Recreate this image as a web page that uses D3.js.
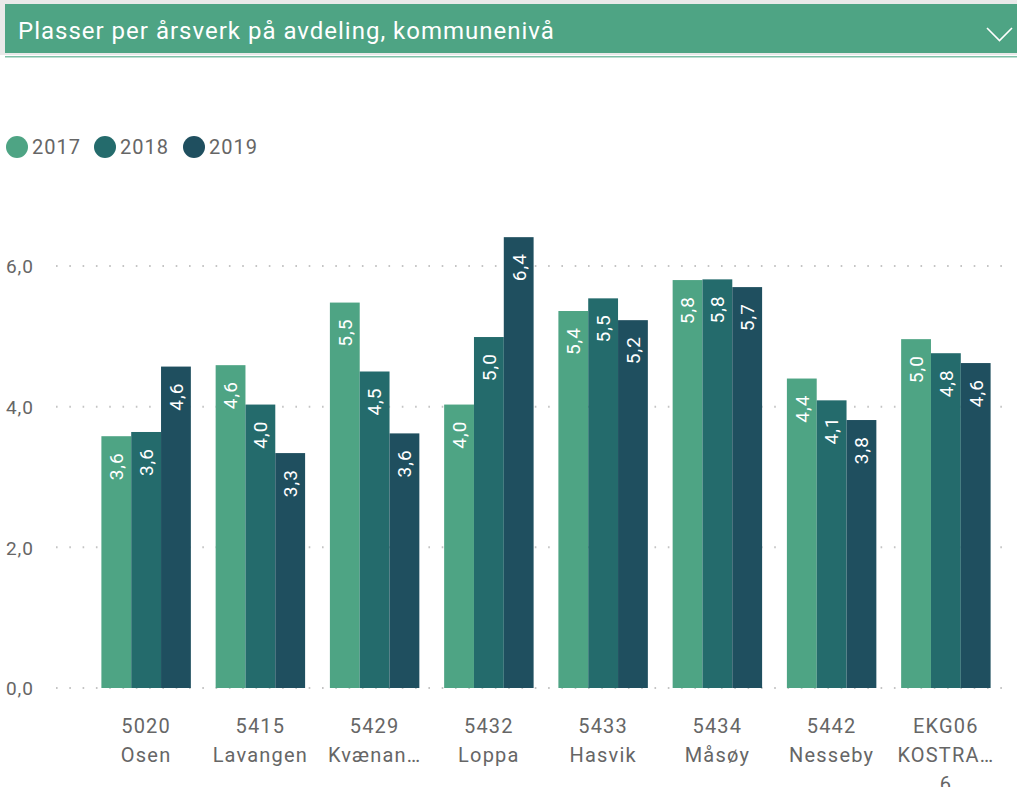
<!DOCTYPE html>
<html>
<head>
<meta charset="utf-8">
<script src="https://cdn.jsdelivr.net/npm/d3@7"></script>
<style>
  html, body { margin: 0; padding: 0; background: #fff; }
  svg { display: block; font-family: Roboto, "DejaVu Sans", sans-serif; }
</style>
</head>
<body>
<svg id="chart" width="1017" height="787"></svg>
<script>
// Plasser per årsverk på avdeling, per kommune og år
const categories = [
  ["5020", "Osen"],
  ["5415", "Lavangen"],
  ["5429", "Kvænan…"],
  ["5432", "Loppa"],
  ["5433", "Hasvik"],
  ["5434", "Måsøy"],
  ["5442", "Nesseby"],
  ["EKG06", "KOSTRA…", "6"]
];
const years = ["2017", "2018", "2019"];
const values2017 = [3.58, 4.59, 5.48, 4.03, 5.36, 5.80, 4.40, 4.96];
const values2018 = [3.64, 4.03, 4.50, 4.99, 5.54, 5.81, 4.09, 4.76];
const values2019 = [4.57, 3.34, 3.62, 6.41, 5.23, 5.70, 3.81, 4.62];
const yTicks = [0, 2, 4, 6];
const colors = ["#4ea484", "#246b6c", "#1f4f5f"];

const series = [values2017, values2018, values2019];
const fmt = v => d3.format(".1f")(v).replace(".", ",");

const svg = d3.select("#chart");

// Header band
svg.append("rect").attr("x", 0).attr("y", 0).attr("width", 1017).attr("height", 55).attr("fill", "#e9e9e9");
svg.append("rect").attr("x", 5).attr("y", 4).attr("width", 1012).attr("height", 49).attr("fill", "#4ea484");
svg.append("rect").attr("x", 5).attr("y", 56).attr("width", 1012).attr("height", 1.5).attr("fill", "#7fc1a8");
svg.append("text").attr("x", 18).attr("y", 39)
  .attr("fill", "#fff").attr("font-size", 24).attr("letter-spacing", 1)
  .text("Plasser per årsverk på avdeling, kommunenivå");
svg.append("path").attr("d", "M987,28 L999.5,40.5 L1012,28")
  .attr("fill", "none").attr("stroke", "#fff").attr("stroke-width", 1.6);

// Legend
const legend = svg.append("g");
const legendX = [17, 105, 194];
years.forEach((y, i) => {
  legend.append("circle").attr("cx", legendX[i]).attr("cy", 147).attr("r", 11).attr("fill", colors[i]);
  legend.append("text").attr("x", legendX[i] + 15).attr("y", 154)
    .attr("fill", "#666").attr("font-size", 20).attr("letter-spacing", 1).text(y);
});

// Scales
const x0 = d3.scaleBand().domain(d3.range(categories.length)).range([89, 1003])
  .paddingInner(0.217).paddingOuter(0.1085);
const x1 = d3.scaleBand().domain(d3.range(years.length)).range([0, x0.bandwidth()]);
const y = d3.scaleLinear().domain([0, 6]).range([688, 266]);

// Gridlines and y-axis
const yAxis = d3.axisLeft(y).tickValues(yTicks).tickFormat(fmt).tickSize(0);
const yg = svg.append("g").attr("transform", "translate(34,0)").call(yAxis);
yg.select(".domain").remove();
yg.selectAll("text").attr("fill", "#666").attr("font-size", 19).attr("x", 0).attr("dy", "0.36em")
  .attr("letter-spacing", 1).style("font-family", "Roboto, sans-serif");

svg.append("g").selectAll("line").data(yTicks).join("line")
  .attr("x1", 56).attr("x2", 1012)
  .attr("y1", d => y(d)).attr("y2", d => y(d))
  .attr("stroke", "#c4c4c4").attr("stroke-width", 2)
  .attr("stroke-dasharray", "1.6 11.7");

// Bars
const groups = svg.append("g").selectAll("g").data(categories).join("g")
  .attr("transform", (d, i) => `translate(${x0(i)},0)`);

groups.each(function(cat, ci) {
  const g = d3.select(this);
  series.forEach((s, si) => {
    const v = s[ci];
    g.append("rect")
      .attr("x", x1(si)).attr("width", x1.bandwidth())
      .attr("y", y(v)).attr("height", y(0) - y(v))
      .attr("fill", colors[si]);
    const cx = x1(si) + x1.bandwidth() / 2;
    const ty = y(v) + 16;
    g.append("text")
      .attr("transform", `translate(${cx},${ty}) rotate(-90)`)
      .attr("text-anchor", "end").attr("dy", "0.36em")
      .attr("fill", "#fff").attr("font-size", 19).attr("letter-spacing", 1)
      .text(fmt(v));
  });
});

// Category labels
const xg = svg.append("g");
categories.forEach((lines, i) => {
  const cx = x0(i) + x0.bandwidth() / 2;
  const t = xg.append("text")
    .attr("x", cx).attr("y", 733)
    .attr("text-anchor", "middle").attr("fill", "#666")
    .attr("font-size", 20).attr("letter-spacing", 1.2);
  lines.forEach((ln, li) => {
    t.append("tspan").attr("x", cx).attr("y", 733 + li * 29).text(ln);
  });
});
</script>
</body>
</html>
